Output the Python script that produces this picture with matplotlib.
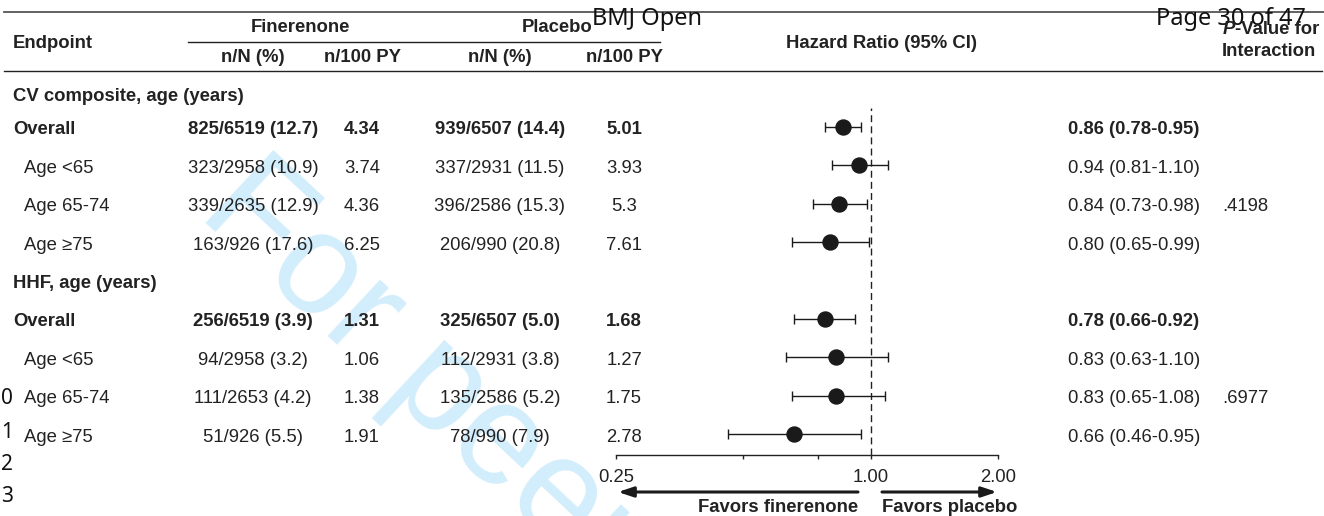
import numpy as np
import matplotlib
matplotlib.use("Agg")
import matplotlib.pyplot as plt

plt.rcParams['font.family'] = ['Liberation Sans', 'DejaVu Sans']

# table data
sections = ['CV composite, age (years)', 'HHF, age (years)']
subgroups = ['Overall', 'Age <65', 'Age 65-74', 'Age ≥75']
fin_nN = ['825/6519 (12.7)', '323/2958 (10.9)', '339/2635 (12.9)', '163/926 (17.6)',
          '256/6519 (3.9)', '94/2958 (3.2)', '111/2653 (4.2)', '51/926 (5.5)']
fin_rate = ['4.34', '3.74', '4.36', '6.25', '1.31', '1.06', '1.38', '1.91']
pla_nN = ['939/6507 (14.4)', '337/2931 (11.5)', '396/2586 (15.3)', '206/990 (20.8)',
          '325/6507 (5.0)', '112/2931 (3.8)', '135/2586 (5.2)', '78/990 (7.9)']
pla_rate = ['5.01', '3.93', '5.3', '7.61', '1.68', '1.27', '1.75', '2.78']
hr = np.array([0.86, 0.94, 0.84, 0.80, 0.78, 0.83, 0.83, 0.66])
lo = np.array([0.78, 0.81, 0.73, 0.65, 0.66, 0.63, 0.65, 0.46])
hi = np.array([0.95, 1.10, 0.98, 0.99, 0.92, 1.10, 1.08, 0.95])
p_int = ['', '', '.4198', '', '', '', '.6977', '']
xticks = [0.25, 0.5, 0.75, 1.0, 2.0]
xticklabels = ['0.25', '', '', '1.00', '2.00']

W, H = 1324, 516
fig = plt.figure(figsize=(W / 100, H / 100), dpi=100)
ax = fig.add_axes([0, 0, 1, 1])
ax.set_xlim(0, W)
ax.set_ylim(H, 0)
ax.axis('off')

txt = '#222222'
fs = 13.3

# watermark + page furniture
ax.text(196, 214, 'For peer review only', fontsize=104, color='#d2edfb',
        rotation=-43, rotation_mode='anchor', ha='left', va='baseline', zorder=0)
ax.text(647, 25, 'BMJ Open', fontsize=17, family='Noto Sans', color='#111111',
        ha='center', va='baseline', zorder=3)
ax.text(1306, 25, 'Page 30 of 47', fontsize=17, family='Noto Sans', color='#111111',
        ha='right', va='baseline', zorder=3)
for num, yy in zip(['0', '1', '2', '3'], [399, 433, 465, 497]):
    ax.text(1, yy, num, fontsize=15, family='Noto Sans', color='#111111',
            ha='left', va='center')

# rules
ax.plot([4, W], [12, 12], color='#555555', lw=1.3, zorder=2)
ax.plot([4, 1322], [70.5, 70.5], color='#222222', lw=1.0)
ax.plot([188, 660], [41.5, 41.5], color='#222222', lw=1.0)

# headers
hb = dict(fontsize=fs, weight='bold', color=txt, va='center')
ax.text(13, 43, 'Endpoint', ha='left', **hb)
ax.text(300, 27, 'Finerenone', ha='center', **hb)
ax.text(557, 27, 'Placebo', ha='center', **hb)
ax.text(253, 57, 'n/N (%)', ha='center', **hb)
ax.text(362, 57, 'n/100 PY', ha='center', **hb)
ax.text(500, 57, 'n/N (%)', ha='center', **hb)
ax.text(624, 57, 'n/100 PY', ha='center', **hb)
ax.text(882, 43, 'Hazard Ratio (95% CI)', ha='center', **hb)
t2 = ax.text(1319, 30, '-Value for', ha='right', **hb)
fig.canvas.draw()
bb = t2.get_window_extent()
ax.text(bb.x0, 30, 'P', ha='right', style='italic', **hb)
ax.text(1269, 52, 'Interaction', ha='center', **hb)

# row positions
row_y = 130 + 38.4 * (np.arange(10) - 1)
row_y[0] += 5
sec_idx = [0, 5]
data_idx = [1, 2, 3, 4, 6, 7, 8, 9]
data_y = row_y[data_idx]

for i, s in zip(sec_idx, sections):
    ax.text(13, row_y[i], s, fontsize=fs, weight='bold', color=txt, va='center')

for k, y in enumerate(data_y):
    sub = subgroups[k % 4]
    w = 'bold' if sub == 'Overall' else 'normal'
    kw = dict(fontsize=fs, weight=w, color=txt, va='center')
    ax.text(13 if sub == 'Overall' else 24, y, sub, ha='left', **kw)
    ax.text(253, y, fin_nN[k], ha='center', **kw)
    ax.text(362, y, fin_rate[k], ha='center', **kw)
    ax.text(500, y, pla_nN[k], ha='center', **kw)
    ax.text(624, y, pla_rate[k], ha='center', **kw)
    ax.text(1068, y, f'{hr[k]:.2f} ({lo[k]:.2f}-{hi[k]:.2f})', ha='left', **kw)
    if p_int[k]:
        ax.text(1222, y, p_int[k], ha='left', **kw)

# forest plot axes
x0, x1, ytop, ybot = 616, 998, 80, 455
fx = fig.add_axes([x0 / W, (H - ybot) / H, (x1 - x0) / W, (ybot - ytop) / H])
fx.set_facecolor('none')
fx.set_xscale('log')
fx.set_xlim(0.25, 2.0)
fx.set_ylim(ybot, ytop)
for sp in ['top', 'left', 'right']:
    fx.spines[sp].set_visible(False)
fx.spines['bottom'].set_color('#222222')
fx.spines['bottom'].set_linewidth(1.0)
fx.set_yticks([])
fx.set_xticks(xticks)
fx.set_xticklabels(xticklabels)
fx.minorticks_off()
fx.tick_params(axis='x', direction='out', length=3, width=1, color='#222222',
               labelsize=fs, labelcolor=txt, pad=7)

fx.plot([1, 1], [ybot, 108], color='#222222', lw=1.0, ls=(0, (5, 3)))
fx.errorbar(hr, data_y - 3, xerr=[hr - lo, hi - hr], fmt='o', ms=10.8,
            color='#1a1a1a', ecolor='#1a1a1a', elinewidth=1.0, capsize=3.6,
            capthick=1.0, zorder=3)

# direction arrows
ap = dict(arrowstyle='-|>,head_length=0.9,head_width=0.3', lw=2.2,
          color='#1a1a1a', shrinkA=0, shrinkB=0, mutation_scale=10)
ax.annotate('', xy=(618, 492), xytext=(858, 492), arrowprops=ap)
ax.annotate('', xy=(997, 492), xytext=(882, 492), arrowprops=ap)
ax.text(858, 508, 'Favors finerenone', fontsize=fs, weight='bold', color=txt,
        ha='right', va='center')
ax.text(882, 508, 'Favors placebo', fontsize=fs, weight='bold', color=txt,
        ha='left', va='center')

fig.savefig('out.png', dpi=100)
